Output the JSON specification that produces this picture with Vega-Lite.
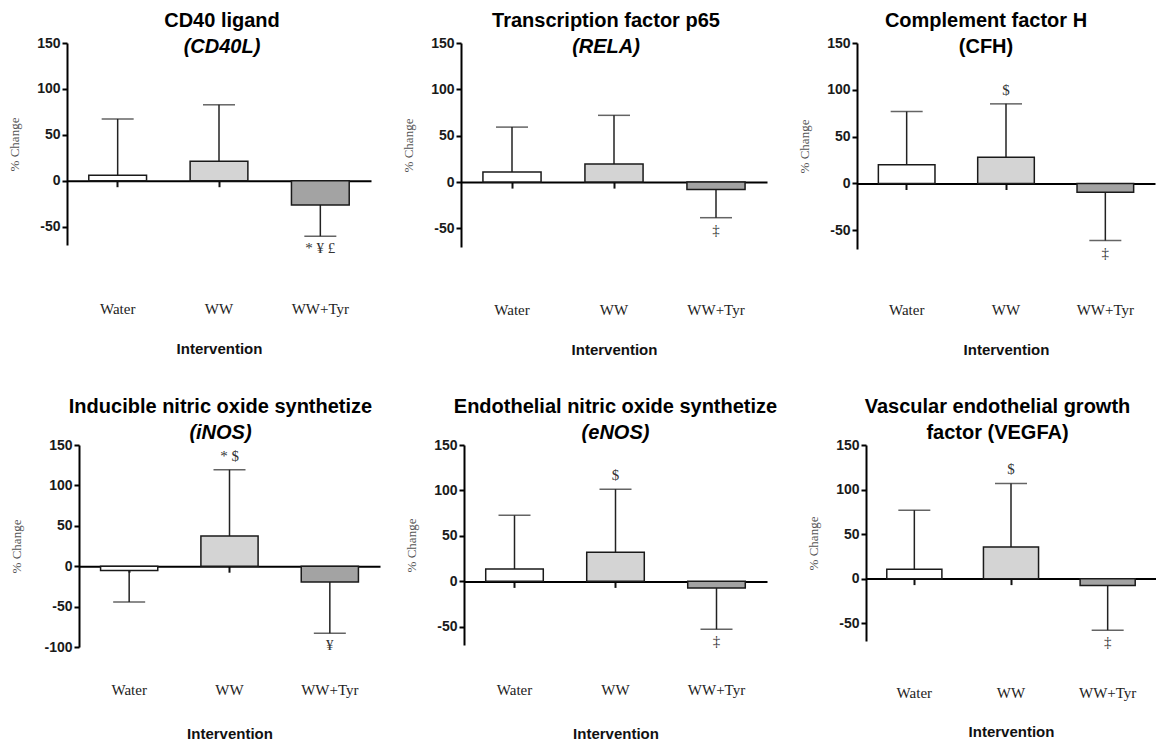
{
  "$schema": "https://vega.github.io/schema/vega-lite/v6.json",
  "padding": {"left": 8, "top": 11, "right": 0, "bottom": 0},
  "background": "white",
  "bounds": "full",
  "columns": 1,
  "spacing": 39,
  "config": {
    "view": {"stroke": null},
    "font": "Liberation Sans",
    "axisY": {"domainWidth": 2, "domainColor": "#000", "tickSize": 5, "tickWidth": 2, "tickColor": "#000", "labelFont": "Liberation Sans", "labelFontSize": 14, "labelFontWeight": "bold", "labelColor": "#1a1a1a", "labelPadding": 2, "labelFlush": false, "labelOverlap": false, "titleFont": "Liberation Serif", "titleFontSize": 13, "titleFontWeight": "normal", "titleColor": "#555", "titlePadding": 15, "grid": false},
    "axisX": {"domainWidth": 2, "domainColor": "#000", "tickSize": 6, "tickWidth": 2, "tickColor": "#111", "labelFont": "Liberation Serif", "labelFontSize": 15, "labelColor": "#222", "labelAngle": 0, "titleFont": "Liberation Sans", "titleFontSize": 15, "titleFontWeight": "bold", "titleColor": "#111", "zindex": 1, "grid": false},
    "title": {"font": "Liberation Sans", "fontSize": 20, "fontWeight": "bold", "color": "#000", "subtitleFont": "Liberation Sans", "subtitleFontSize": 20, "subtitleFontWeight": "bold", "subtitleColor": "#000", "subtitlePadding": 6, "frame": "group", "anchor": "middle"}
  },
  "datasets": {
    "d": [
      {"panel": "CD40L", "group": "Water", "mean": 6.1, "err": 67.3, "sig": ""},
      {"panel": "CD40L", "group": "WW", "mean": 21.2, "err": 82.7, "sig": ""},
      {"panel": "CD40L", "group": "WW+Tyr", "mean": -26.3, "err": -60.4, "sig": "* ¥ £"},
      {"panel": "RELA", "group": "Water", "mean": 11, "err": 59.3, "sig": ""},
      {"panel": "RELA", "group": "WW", "mean": 19.4, "err": 72, "sig": ""},
      {"panel": "RELA", "group": "WW+Tyr", "mean": -8, "err": -38.4, "sig": "‡"},
      {"panel": "CFH", "group": "Water", "mean": 20, "err": 76.8, "sig": ""},
      {"panel": "CFH", "group": "WW", "mean": 27.9, "err": 85, "sig": "$"},
      {"panel": "CFH", "group": "WW+Tyr", "mean": -9.3, "err": -61, "sig": "‡"},
      {"panel": "iNOS", "group": "Water", "mean": -5.4, "err": -44.3, "sig": ""},
      {"panel": "iNOS", "group": "WW", "mean": 37.3, "err": 119.3, "sig": "* $"},
      {"panel": "iNOS", "group": "WW+Tyr", "mean": -19.5, "err": -82.9, "sig": "¥"},
      {"panel": "eNOS", "group": "Water", "mean": 13.6, "err": 72.6, "sig": ""},
      {"panel": "eNOS", "group": "WW", "mean": 32.1, "err": 101.4, "sig": "$"},
      {"panel": "eNOS", "group": "WW+Tyr", "mean": -7.4, "err": -52.7, "sig": "‡"},
      {"panel": "VEGFA", "group": "Water", "mean": 10.6, "err": 76.8, "sig": ""},
      {"panel": "VEGFA", "group": "WW", "mean": 35.5, "err": 106.8, "sig": "$"},
      {"panel": "VEGFA", "group": "WW+Tyr", "mean": -7.7, "err": -57.8, "sig": "‡"}
    ]
  },
  "concat": [
    {
      "hconcat": [
        {
          "width": 304, "height": 202,
          "data": {"name": "d"},
          "title": {"text": "CD40 ligand", "subtitle": "(CD40L)", "subtitleFontStyle": "italic", "offset": -21, "dx": 3},
          "transform": [{"filter": "datum.panel == 'CD40L'"}],
          "encoding": {"x": {"field": "group", "type": "nominal", "sort": ["Water", "WW", "WW+Tyr"], "scale": {"paddingInner": 0.43, "paddingOuter": 0.215}, "axis": {"title": "Intervention", "offset": -64.3, "labelPadding": 115, "titlePadding": 25}}},
          "layer": [
            {"mark": {"type": "rule", "color": "#222", "strokeWidth": 1.5}, "encoding": {"y": {"field": "mean", "type": "quantitative", "title": "% Change", "scale": {"domain": [-70, 150], "nice": false}, "axis": {"values": [-50, 0, 50, 100, 150], "labelExpr": "datum.value"}}, "y2": {"field": "err"}}},
            {"mark": {"type": "bar", "stroke": "#1a1a1a", "strokeWidth": 1.5}, "encoding": {"y": {"field": "mean", "type": "quantitative", "title": "% Change", "scale": {"domain": [-70, 150], "nice": false}}, "color": {"field": "group", "type": "nominal", "scale": {"domain": ["Water", "WW", "WW+Tyr"], "range": ["#ffffff", "#d4d4d4", "#a3a3a3"]}, "legend": null}}},
            {"mark": {"type": "tick", "orient": "horizontal", "size": 32, "thickness": 1.5, "color": "#222"}, "encoding": {"y": {"field": "err", "type": "quantitative", "title": "% Change", "scale": {"domain": [-70, 150], "nice": false}}}},
            {"transform": [{"filter": "datum.sig != '' && datum.err > 0"}], "mark": {"type": "text", "baseline": "alphabetic", "dy": -9, "font": "Liberation Serif", "fontSize": 15, "color": "#333"}, "encoding": {"y": {"field": "err", "type": "quantitative", "title": "% Change", "scale": {"domain": [-70, 150], "nice": false}}, "text": {"field": "sig"}}},
            {"transform": [{"filter": "datum.sig != '' && datum.err < 0"}], "mark": {"type": "text", "baseline": "top", "dy": 5, "font": "Liberation Serif", "fontSize": 15, "color": "#333"}, "encoding": {"y": {"field": "err", "type": "quantitative", "title": "% Change", "scale": {"domain": [-70, 150], "nice": false}}, "text": {"field": "sig"}}}
          ]
        },
        {
          "width": 306, "height": 204,
          "data": {"name": "d"},
          "title": {"text": "Transcription factor p65", "subtitle": "(RELA)", "subtitleFontStyle": "italic", "offset": -21, "dx": -8},
          "transform": [{"filter": "datum.panel == 'RELA'"}],
          "encoding": {"x": {"field": "group", "type": "nominal", "sort": ["Water", "WW", "WW+Tyr"], "scale": {"paddingInner": 0.43, "paddingOuter": 0.215}, "axis": {"title": "Intervention", "offset": -64.9, "labelPadding": 114, "titlePadding": 25}}},
          "layer": [
            {"mark": {"type": "rule", "color": "#222", "strokeWidth": 1.5}, "encoding": {"y": {"field": "mean", "type": "quantitative", "title": "% Change", "scale": {"domain": [-70, 150], "nice": false}, "axis": {"values": [-50, 0, 50, 100, 150], "labelExpr": "datum.value"}}, "y2": {"field": "err"}}},
            {"mark": {"type": "bar", "stroke": "#1a1a1a", "strokeWidth": 1.5}, "encoding": {"y": {"field": "mean", "type": "quantitative", "title": "% Change", "scale": {"domain": [-70, 150], "nice": false}}, "color": {"field": "group", "type": "nominal", "scale": {"domain": ["Water", "WW", "WW+Tyr"], "range": ["#ffffff", "#d4d4d4", "#a3a3a3"]}, "legend": null}}},
            {"mark": {"type": "tick", "orient": "horizontal", "size": 32, "thickness": 1.5, "color": "#222"}, "encoding": {"y": {"field": "err", "type": "quantitative", "title": "% Change", "scale": {"domain": [-70, 150], "nice": false}}}},
            {"transform": [{"filter": "datum.sig != '' && datum.err > 0"}], "mark": {"type": "text", "baseline": "alphabetic", "dy": -9, "font": "Liberation Serif", "fontSize": 15, "color": "#333"}, "encoding": {"y": {"field": "err", "type": "quantitative", "title": "% Change", "scale": {"domain": [-70, 150], "nice": false}}, "text": {"field": "sig"}}},
            {"transform": [{"filter": "datum.sig != '' && datum.err < 0"}], "mark": {"type": "text", "baseline": "top", "dy": 5, "font": "Liberation Serif", "fontSize": 15, "color": "#333"}, "encoding": {"y": {"field": "err", "type": "quantitative", "title": "% Change", "scale": {"domain": [-70, 150], "nice": false}}, "text": {"field": "sig"}}}
          ]
        },
        {
          "width": 298, "height": 206,
          "data": {"name": "d"},
          "title": {"text": "Complement factor H", "subtitle": "(CFH)", "offset": -21, "dx": -20},
          "transform": [{"filter": "datum.panel == 'CFH'"}],
          "encoding": {"x": {"field": "group", "type": "nominal", "sort": ["Water", "WW", "WW+Tyr"], "scale": {"paddingInner": 0.43, "paddingOuter": 0.215}, "axis": {"title": "Intervention", "offset": -65.5, "labelPadding": 112.5, "titlePadding": 25}}},
          "layer": [
            {"mark": {"type": "rule", "color": "#222", "strokeWidth": 1.5}, "encoding": {"y": {"field": "mean", "type": "quantitative", "title": "% Change", "scale": {"domain": [-70, 150], "nice": false}, "axis": {"values": [-50, 0, 50, 100, 150], "labelExpr": "datum.value"}}, "y2": {"field": "err"}}},
            {"mark": {"type": "bar", "stroke": "#1a1a1a", "strokeWidth": 1.5}, "encoding": {"y": {"field": "mean", "type": "quantitative", "title": "% Change", "scale": {"domain": [-70, 150], "nice": false}}, "color": {"field": "group", "type": "nominal", "scale": {"domain": ["Water", "WW", "WW+Tyr"], "range": ["#ffffff", "#d4d4d4", "#a3a3a3"]}, "legend": null}}},
            {"mark": {"type": "tick", "orient": "horizontal", "size": 32, "thickness": 1.5, "color": "#222"}, "encoding": {"y": {"field": "err", "type": "quantitative", "title": "% Change", "scale": {"domain": [-70, 150], "nice": false}}}},
            {"transform": [{"filter": "datum.sig != '' && datum.err > 0"}], "mark": {"type": "text", "baseline": "alphabetic", "dy": -9, "font": "Liberation Serif", "fontSize": 15, "color": "#333"}, "encoding": {"y": {"field": "err", "type": "quantitative", "title": "% Change", "scale": {"domain": [-70, 150], "nice": false}}, "text": {"field": "sig"}}},
            {"transform": [{"filter": "datum.sig != '' && datum.err < 0"}], "mark": {"type": "text", "baseline": "top", "dy": 5, "font": "Liberation Serif", "fontSize": 15, "color": "#333"}, "encoding": {"y": {"field": "err", "type": "quantitative", "title": "% Change", "scale": {"domain": [-70, 150], "nice": false}}, "text": {"field": "sig"}}}
          ]
        }
      ],
      "spacing": 90,
      "bounds": "flush"
    },
    {
      "hconcat": [
        {
          "width": 313, "height": 202,
          "data": {"name": "d"},
          "title": {"text": "Inducible nitric oxide synthetize", "subtitle": "(iNOS)", "subtitleFontStyle": "italic", "offset": -5, "dx": -3},
          "transform": [{"filter": "datum.panel == 'iNOS'"}],
          "encoding": {"x": {"field": "group", "type": "nominal", "sort": ["Water", "WW", "WW+Tyr"], "scale": {"range": [12, 313], "paddingInner": 0.43, "paddingOuter": 0.215}, "axis": {"title": "Intervention", "offset": -80.8, "labelPadding": 110, "titlePadding": 29}}},
          "layer": [
            {"mark": {"type": "rule", "color": "#222", "strokeWidth": 1.5}, "encoding": {"y": {"field": "mean", "type": "quantitative", "title": "% Change", "scale": {"domain": [-100, 150], "nice": false}, "axis": {"values": [-100, -50, 0, 50, 100, 150], "labelExpr": "datum.value", "offset": -12, "titlePadding": 20}}, "y2": {"field": "err"}}},
            {"mark": {"type": "bar", "stroke": "#1a1a1a", "strokeWidth": 1.5}, "encoding": {"y": {"field": "mean", "type": "quantitative", "title": "% Change", "scale": {"domain": [-100, 150], "nice": false}}, "color": {"field": "group", "type": "nominal", "scale": {"domain": ["Water", "WW", "WW+Tyr"], "range": ["#ffffff", "#d4d4d4", "#a3a3a3"]}, "legend": null}}},
            {"mark": {"type": "tick", "orient": "horizontal", "size": 32, "thickness": 1.5, "color": "#222"}, "encoding": {"y": {"field": "err", "type": "quantitative", "title": "% Change", "scale": {"domain": [-100, 150], "nice": false}}}},
            {"transform": [{"filter": "datum.sig != '' && datum.err > 0"}], "mark": {"type": "text", "baseline": "alphabetic", "dy": -9, "font": "Liberation Serif", "fontSize": 15, "color": "#333"}, "encoding": {"y": {"field": "err", "type": "quantitative", "title": "% Change", "scale": {"domain": [-100, 150], "nice": false}}, "text": {"field": "sig"}}},
            {"transform": [{"filter": "datum.sig != '' && datum.err < 0"}], "mark": {"type": "text", "baseline": "top", "dy": 5, "font": "Liberation Serif", "fontSize": 15, "color": "#333"}, "encoding": {"y": {"field": "err", "type": "quantitative", "title": "% Change", "scale": {"domain": [-100, 150], "nice": false}}, "text": {"field": "sig"}}}
          ]
        },
        {
          "width": 303, "height": 200,
          "data": {"name": "d"},
          "title": {"text": "Endothelial nitric oxide synthetize", "subtitle": "(eNOS)", "subtitleFontStyle": "italic", "offset": -5, "dx": 0},
          "transform": [{"filter": "datum.panel == 'eNOS'"}],
          "encoding": {"x": {"field": "group", "type": "nominal", "sort": ["Water", "WW", "WW+Tyr"], "scale": {"paddingInner": 0.43, "paddingOuter": 0.215}, "axis": {"title": "Intervention", "offset": -63.6, "labelPadding": 94.6, "titlePadding": 29}}},
          "layer": [
            {"mark": {"type": "rule", "color": "#222", "strokeWidth": 1.5}, "encoding": {"y": {"field": "mean", "type": "quantitative", "title": "% Change", "scale": {"domain": [-70, 150], "nice": false}, "axis": {"values": [-50, 0, 50, 100, 150], "labelExpr": "datum.value"}}, "y2": {"field": "err"}}},
            {"mark": {"type": "bar", "stroke": "#1a1a1a", "strokeWidth": 1.5}, "encoding": {"y": {"field": "mean", "type": "quantitative", "title": "% Change", "scale": {"domain": [-70, 150], "nice": false}}, "color": {"field": "group", "type": "nominal", "scale": {"domain": ["Water", "WW", "WW+Tyr"], "range": ["#ffffff", "#d4d4d4", "#a3a3a3"]}, "legend": null}}},
            {"mark": {"type": "tick", "orient": "horizontal", "size": 32, "thickness": 1.5, "color": "#222"}, "encoding": {"y": {"field": "err", "type": "quantitative", "title": "% Change", "scale": {"domain": [-70, 150], "nice": false}}}},
            {"transform": [{"filter": "datum.sig != '' && datum.err > 0"}], "mark": {"type": "text", "baseline": "alphabetic", "dy": -9, "font": "Liberation Serif", "fontSize": 15, "color": "#333"}, "encoding": {"y": {"field": "err", "type": "quantitative", "title": "% Change", "scale": {"domain": [-70, 150], "nice": false}}, "text": {"field": "sig"}}},
            {"transform": [{"filter": "datum.sig != '' && datum.err < 0"}], "mark": {"type": "text", "baseline": "top", "dy": 5, "font": "Liberation Serif", "fontSize": 15, "color": "#333"}, "encoding": {"y": {"field": "err", "type": "quantitative", "title": "% Change", "scale": {"domain": [-70, 150], "nice": false}}, "text": {"field": "sig"}}}
          ]
        },
        {
          "width": 305, "height": 196,
          "data": {"name": "d"},
          "title": {"text": "Vascular endothelial growth", "subtitle": "factor (VEGFA)", "offset": -5, "dx": -6},
          "transform": [{"filter": "datum.panel == 'VEGFA'"}],
          "encoding": {"x": {"field": "group", "type": "nominal", "sort": ["Water", "WW", "WW+Tyr"], "scale": {"range": [15, 305], "paddingInner": 0.43, "paddingOuter": 0.215}, "axis": {"title": "Intervention", "offset": -62.4, "labelPadding": 101, "titlePadding": 24}}},
          "layer": [
            {"mark": {"type": "rule", "color": "#222", "strokeWidth": 1.5}, "encoding": {"y": {"field": "mean", "type": "quantitative", "title": "% Change", "scale": {"domain": [-70, 150], "nice": false}, "axis": {"values": [-50, 0, 50, 100, 150], "labelExpr": "datum.value", "offset": -15}}, "y2": {"field": "err"}}},
            {"mark": {"type": "bar", "stroke": "#1a1a1a", "strokeWidth": 1.5}, "encoding": {"y": {"field": "mean", "type": "quantitative", "title": "% Change", "scale": {"domain": [-70, 150], "nice": false}}, "color": {"field": "group", "type": "nominal", "scale": {"domain": ["Water", "WW", "WW+Tyr"], "range": ["#ffffff", "#d4d4d4", "#a3a3a3"]}, "legend": null}}},
            {"mark": {"type": "tick", "orient": "horizontal", "size": 32, "thickness": 1.5, "color": "#222"}, "encoding": {"y": {"field": "err", "type": "quantitative", "title": "% Change", "scale": {"domain": [-70, 150], "nice": false}}}},
            {"transform": [{"filter": "datum.sig != '' && datum.err > 0"}], "mark": {"type": "text", "baseline": "alphabetic", "dy": -9, "font": "Liberation Serif", "fontSize": 15, "color": "#333"}, "encoding": {"y": {"field": "err", "type": "quantitative", "title": "% Change", "scale": {"domain": [-70, 150], "nice": false}}, "text": {"field": "sig"}}},
            {"transform": [{"filter": "datum.sig != '' && datum.err < 0"}], "mark": {"type": "text", "baseline": "top", "dy": 5, "font": "Liberation Serif", "fontSize": 15, "color": "#333"}, "encoding": {"y": {"field": "err", "type": "quantitative", "title": "% Change", "scale": {"domain": [-70, 150], "nice": false}}, "text": {"field": "sig"}}}
          ]
        }
      ],
      "spacing": 84,
      "bounds": "flush"
    }
  ]
}
